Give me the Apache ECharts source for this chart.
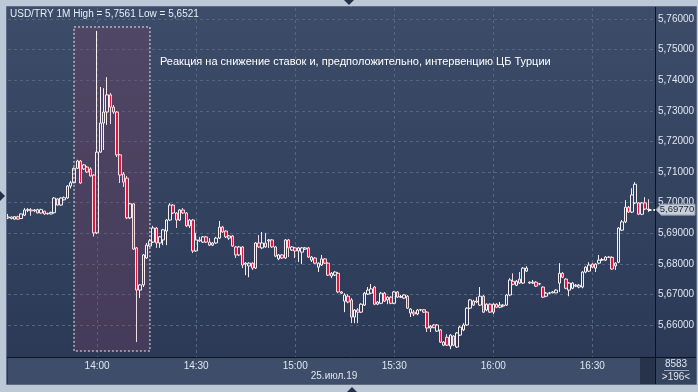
<!DOCTYPE html>
<html><head><meta charset="utf-8">
<script src="https://cdn.jsdelivr.net/npm/echarts@6/dist/echarts.min.js"></script>
<style>html,body{margin:0;padding:0;background:#bdc8d6;}#c{width:698px;height:392px;}</style>
</head><body><div id="c"></div>
<script>
// ---- data (USD/TRY, 1-minute candles, 25.07.19, 13:33 .. 16:47) ----
const startTime = '13:33';
const endTime = '16:49';
const opens = [5.6950,5.6953,5.6946,5.6954,5.6948,5.6959,5.6975,5.6976,5.6973,5.6977,5.6966,5.6972,5.6963,5.6963,5.6967,5.7012,5.6992,5.7009,5.7015,5.7054,
5.7065,5.7112,5.7136,5.7110,5.7116,5.7110,5.7090,5.6901,5.7165,5.7260,5.7296,5.7352,5.7312,5.7296,5.7156,5.7093,5.7080,5.6950,5.6996,5.6852,
5.6714,5.6731,5.6819,5.6858,5.6871,5.6917,5.6868,5.6878,5.6907,5.6943,5.6992,5.6966,5.6943,5.6976,5.6966,5.6924,5.6943,5.6842,5.6878,5.6871,
5.6888,5.6871,5.6861,5.6868,5.6884,5.6920,5.6907,5.6884,5.6891,5.6855,5.6829,5.6855,5.6799,5.6793,5.6802,5.6786,5.6868,5.6852,5.6868,5.6875,
5.6878,5.6855,5.6816,5.6829,5.6819,5.6878,5.6845,5.6852,5.6842,5.6838,5.6848,5.6852,5.6812,5.6819,5.6789,5.6796,5.6816,5.6802,5.6760,5.6763,
5.6769,5.6704,5.6678,5.6694,5.6682,5.6626,5.6649,5.6642,5.6665,5.6701,5.6704,5.6724,5.6668,5.6671,5.6704,5.6682,5.6691,5.6671,5.6708,5.6691,
5.6688,5.6694,5.6639,5.6642,5.6636,5.6649,5.6650,5.6642,5.6590,5.6600,5.6580,5.6584,5.6534,5.6560,5.6531,5.6564,5.6528,5.6567,5.6584,5.6600,
5.6655,5.6678,5.6675,5.6665,5.6694,5.6649,5.6668,5.6642,5.6668,5.6658,5.6662,5.6665,5.6698,5.6743,5.6730,5.6750,5.6737,5.6776,5.6740,5.6737,
5.6740,5.6734,5.6724,5.6694,5.6704,5.6705,5.6705,5.6737,5.6769,5.6750,5.6714,5.6720,5.6727,5.6724,5.6724,5.6773,5.6776,5.6799,5.6786,5.6802,
5.6812,5.6812,5.6822,5.6821,5.6793,5.6805,5.6910,5.6937,5.6985,5.6969,5.6999,5.6999,5.6962,5.6999,5.6979];
const closes = [5.6953,5.6948,5.6954,5.6946,5.6963,5.6976,5.6977,5.6973,5.6976,5.6966,5.6977,5.6963,5.6965,5.6968,5.7015,5.6992,5.7015,5.7016,5.7054,5.7065,
5.7112,5.7136,5.7064,5.7123,5.7100,5.7087,5.6901,5.7165,5.7260,5.7296,5.7352,5.7312,5.7296,5.7156,5.7090,5.7067,5.6950,5.6996,5.6848,5.6714,
5.6731,5.6829,5.6861,5.6875,5.6917,5.6868,5.6888,5.6911,5.6943,5.6992,5.6966,5.6943,5.6976,5.6966,5.6924,5.6943,5.6842,5.6878,5.6875,5.6888,
5.6871,5.6861,5.6868,5.6884,5.6920,5.6904,5.6888,5.6891,5.6858,5.6829,5.6855,5.6796,5.6802,5.6802,5.6786,5.6868,5.6855,5.6868,5.6855,5.6878,
5.6855,5.6825,5.6829,5.6819,5.6878,5.6852,5.6855,5.6842,5.6852,5.6852,5.6852,5.6822,5.6822,5.6802,5.6802,5.6816,5.6802,5.6763,5.6769,5.6773,
5.6708,5.6708,5.6698,5.6675,5.6626,5.6649,5.6642,5.6668,5.6704,5.6714,5.6718,5.6668,5.6675,5.6704,5.6678,5.6691,5.6671,5.6708,5.6691,5.6693,
5.6698,5.6655,5.6652,5.6636,5.6649,5.6650,5.6642,5.6590,5.6596,5.6591,5.6600,5.6544,5.6544,5.6534,5.6567,5.6534,5.6574,5.6593,5.6600,5.6655,
5.6682,5.6665,5.6678,5.6694,5.6642,5.6668,5.6642,5.6668,5.6658,5.6665,5.6665,5.6698,5.6747,5.6733,5.6743,5.6737,5.6786,5.6786,5.6737,5.6740,
5.6727,5.6735,5.6691,5.6704,5.6705,5.6708,5.6714,5.6769,5.6756,5.6720,5.6737,5.6737,5.6730,5.6730,5.6773,5.6789,5.6796,5.6789,5.6799,5.6812,
5.6814,5.6822,5.6821,5.6783,5.6802,5.6917,5.6937,5.6985,5.6969,5.7025,5.7060,5.6962,5.6999,5.6979,5.6977];
const lows = [5.6946,5.6945,5.6944,5.6944,5.6947,5.6956,5.6969,5.6957,5.6969,5.6965,5.6964,5.6960,5.6961,5.6961,5.6964,5.6990,5.6990,5.7007,5.7013,5.7046,
5.7063,5.7110,5.7062,5.7107,5.7097,5.7085,5.6889,5.6897,5.7163,5.7172,5.7254,5.7257,5.7290,5.7149,5.7064,5.7051,5.6946,5.6946,5.6845,5.6544,
5.6688,5.6724,5.6816,5.6855,5.6868,5.6852,5.6852,5.6861,5.6861,5.6940,5.6963,5.6917,5.6940,5.6963,5.6920,5.6917,5.6835,5.6839,5.6871,5.6868,
5.6868,5.6858,5.6858,5.6865,5.6881,5.6901,5.6884,5.6878,5.6855,5.6819,5.6825,5.6786,5.6763,5.6756,5.6780,5.6783,5.6852,5.6848,5.6852,5.6852,
5.6852,5.6822,5.6812,5.6816,5.6816,5.6822,5.6842,5.6819,5.6806,5.6799,5.6845,5.6819,5.6806,5.6799,5.6773,5.6793,5.6799,5.6760,5.6753,5.6760,
5.6704,5.6701,5.6642,5.6671,5.6606,5.6606,5.6606,5.6639,5.6662,5.6698,5.6701,5.6665,5.6665,5.6668,5.6675,5.6668,5.6668,5.6668,5.6688,5.6688,
5.6685,5.6652,5.6626,5.6629,5.6632,5.6645,5.6639,5.6577,5.6577,5.6590,5.6577,5.6541,5.6531,5.6531,5.6521,5.6531,5.6525,5.6564,5.6580,5.6597,
5.6652,5.6662,5.6671,5.6662,5.6639,5.6645,5.6639,5.6636,5.6655,5.6655,5.6658,5.6662,5.6694,5.6730,5.6727,5.6734,5.6734,5.6773,5.6734,5.6734,
5.6724,5.6730,5.6688,5.6691,5.6701,5.6704,5.6704,5.6708,5.6753,5.6717,5.6694,5.6717,5.6724,5.6720,5.6720,5.6769,5.6773,5.6786,5.6773,5.6799,
5.6809,5.6809,5.6819,5.6780,5.6780,5.6802,5.6907,5.6933,5.6966,5.6966,5.6995,5.6959,5.6959,5.6976,5.6969];
const highs = [5.6963,5.6955,5.6956,5.6957,5.6964,5.6982,5.6982,5.6982,5.6979,5.6980,5.6980,5.6973,5.6967,5.6970,5.7018,5.7015,5.7017,5.7020,5.7057,5.7071,
5.7115,5.7140,5.7139,5.7126,5.7120,5.7115,5.7093,5.7561,5.7378,5.7374,5.7410,5.7358,5.7319,5.7299,5.7159,5.7100,5.7087,5.6998,5.6998,5.6855,
5.6734,5.6832,5.6868,5.6881,5.6924,5.6920,5.6891,5.6914,5.6946,5.6998,5.6995,5.6969,5.6979,5.6982,5.6969,5.6946,5.6946,5.6901,5.6888,5.6891,
5.6891,5.6884,5.6871,5.6888,5.6940,5.6924,5.6910,5.6894,5.6894,5.6858,5.6858,5.6858,5.6805,5.6805,5.6805,5.6871,5.6894,5.6904,5.6901,5.6881,
5.6881,5.6858,5.6832,5.6832,5.6881,5.6881,5.6858,5.6855,5.6855,5.6855,5.6855,5.6855,5.6825,5.6822,5.6805,5.6829,5.6819,5.6805,5.6773,5.6776,
5.6773,5.6711,5.6704,5.6701,5.6688,5.6652,5.6655,5.6671,5.6708,5.6724,5.6734,5.6727,5.6678,5.6708,5.6708,5.6694,5.6694,5.6711,5.6711,5.6698,
5.6701,5.6698,5.6655,5.6649,5.6652,5.6652,5.6652,5.6645,5.6600,5.6603,5.6603,5.6587,5.6547,5.6570,5.6570,5.6567,5.6577,5.6597,5.6606,5.6658,
5.6685,5.6682,5.6691,5.6724,5.6698,5.6671,5.6671,5.6671,5.6671,5.6675,5.6668,5.6701,5.6753,5.6769,5.6747,5.6773,5.6789,5.6792,5.6743,5.6747,
5.6743,5.6737,5.6727,5.6708,5.6708,5.6711,5.6717,5.6802,5.6773,5.6753,5.6740,5.6740,5.6734,5.6734,5.6776,5.6792,5.6805,5.6802,5.6802,5.6829,
5.6819,5.6825,5.6825,5.6825,5.6805,5.6920,5.6943,5.7008,5.6989,5.7047,5.7067,5.7002,5.7002,5.7018,5.7011];
const priceTicks = [5.66,5.67,5.68,5.69,5.70,5.71,5.72,5.73,5.74,5.75,5.76];
const timeLabels = ['14:00','14:30','15:00','15:30','16:00','16:30'];
const titleText = 'USD/TRY 1M High = 5,7561 Low = 5,6521';
const noteText = 'Реакция на снижение ставок и, предположительно, интервенцию ЦБ Турции';
const dateText = '25.июл.19';
const highlightFrom = '13:53', highlightTo = '14:16';
const highlightTop = 5.7574, highlightBottom = 5.6515;
const yMin = 5.64954, yMax = 5.7636;

// ---- build categories ----
function toMin(s){const p=s.split(':');return +p[0]*60+ +p[1];}
function pad(n){return (n<10?'0':'')+n;}
const times = [];
for (let m = toMin(startTime); m <= toMin(endTime); m++) times.push(pad(Math.floor(m/60))+':'+pad(m%60));
const candles = times.map((t,i)=> i<opens.length ? [opens[i],closes[i],lows[i],highs[i]] : '-');
const lastIdx = opens.length-1;
const lastClose = closes[lastIdx];
const fmt = v => v.toFixed(5).replace('.', ',');
const isLabel = (idx, val) => timeLabels.indexOf(val) >= 0;
const FONT = 'Liberation Sans, Arial, sans-serif';

const chart = echarts.init(document.getElementById('c'), null, {renderer:'canvas'});
const option = {
  backgroundColor: '#bdc8d6',
  animation: false,
  grid: {left: 8, right: 43, top: 8, bottom: 35},
  xAxis: {
    type: 'category', data: times, boundaryGap: false,
    axisLine: {show: false},
    axisTick: {show: false},
    axisLabel: {interval: isLabel, color: '#dfe6ef', fontSize: 10, fontFamily: FONT, margin: 4},
    splitLine: {show: true, interval: isLabel, lineStyle: {color: '#56657f', type: [3,3], width: 1}}
  },
  yAxis: {
    type: 'value', position: 'right', min: yMin, max: yMax,
    axisLine: {show: false},
    axisTick: {show: false, customValues: priceTicks},
    axisLabel: {customValues: priceTicks, formatter: fmt, color: '#dfe6ef', fontSize: 10, fontFamily: FONT, margin: 3},
    splitLine: {show: true, lineStyle: {color: '#56657f', type: [3,3], width: 1}}
  },
  series: [{
    type: 'candlestick',
    data: candles,
    barWidth: 3,
    clip: true,
    itemStyle: {color: 'transparent', color0: '#e3143f', borderColor: '#f6eef0', borderColor0: '#f3dce1', borderWidth: 1},
    markArea: {
      silent: true,
      itemStyle: {color: 'rgba(125,62,95,0.32)', borderColor: '#ececf2', borderWidth: 1, borderType: [2,2]},
      data: [[{coord: [highlightFrom, highlightTop]}, {coord: [highlightTo, highlightBottom]}]]
    },
    markLine: {
      silent: true, symbol: 'none', label: {show: false},
      lineStyle: {color: '#ffffff', type: [3,2], width: 2},
      data: [[{coord: [times[lastIdx], lastClose]}, {coord: [times[times.length-1], lastClose]}]]
    }
  }]
};
chart.setOption(option);

const py = chart.convertToPixel({yAxisIndex: 0}, lastClose);
const bgGrad = new echarts.graphic.LinearGradient(0,0,0,1,[{offset:0,color:'#3c4c69'},{offset:1,color:'#2a3855'}]);
chart.setOption({
  graphic: [
    {type:'rect', z:-10, shape:{x:7,y:7,width:689,height:377}, style:{fill:bgGrad}},
    {type:'rect', z:-9, shape:{x:8,y:357,width:647,height:27}, style:{fill:'#3e4d69'}},
    {type:'rect', z:-9, shape:{x:640,y:358,width:15,height:26}, style:{fill:'#27334b'}},
    {type:'rect', z:-9, shape:{x:656,y:357,width:40,height:27}, style:{fill:'#34435e'}},
    {type:'rect', z:20, shape:{x:6.5,y:6.5,width:690,height:378}, style:{fill:'none', stroke:'#5d6c86', lineWidth:1}},
    {type:'line', z:20, shape:{x1:655.5,y1:7,x2:655.5,y2:384}, style:{stroke:'#0d1220', lineWidth:1}},
    {type:'line', z:20, shape:{x1:7,y1:357.5,x2:696,y2:357.5}, style:{stroke:'#0d1220', lineWidth:1}},
    {type:'polygon', z:20, shape:{points:[[344,0],[354,0],[349,5]]}, style:{fill:'#233048'}},
    {type:'polygon', z:20, shape:{points:[[347,392],[357,392],[352,387]]}, style:{fill:'#233048'}},
    {type:'polygon', z:20, shape:{points:[[0,191],[0,201],[5,196]]}, style:{fill:'#233048'}},
    {type:'text', z:20, x:10, y:14, style:{text:titleText, fill:'#e9eef5', font:'10px '+FONT, textVerticalAlign:'middle'}},
    {type:'text', z:20, x:160, y:62, style:{text:noteText, fill:'#ffffff', font:'11px '+FONT, textVerticalAlign:'middle'}},
    {type:'text', z:20, x:334, y:376, style:{text:dateText, fill:'#dfe6ef', font:'10px '+FONT, textAlign:'center', textVerticalAlign:'middle'}},
    {type:'text', z:20, x:676, y:364, style:{text:'8583', fill:'#dfe6ef', font:'10px '+FONT, textAlign:'center', textVerticalAlign:'middle'}},
    {type:'line', z:20, shape:{x1:664,y1:370.5,x2:689,y2:370.5}, style:{stroke:'#9aa7ba', lineWidth:1}},
    {type:'text', z:20, x:676, y:377, style:{text:'>196<', fill:'#dfe6ef', font:'10px '+FONT, textAlign:'center', textVerticalAlign:'middle'}},
    {type:'polygon', z:100, zlevel:1, shape:{points:[[656,py],[661,py-5.5],[695,py-5.5],[695,py+5.5],[661,py+5.5]]}, style:{fill:'#c8ced8', stroke:'#8d97a8', lineWidth:1}},
    {type:'text', z:101, zlevel:1, x:677, y:py, style:{text:fmt(lastClose), fill:'#1b2233', font:'9.5px '+FONT, textAlign:'center', textVerticalAlign:'middle'}}
  ]
});
</script></body></html>
